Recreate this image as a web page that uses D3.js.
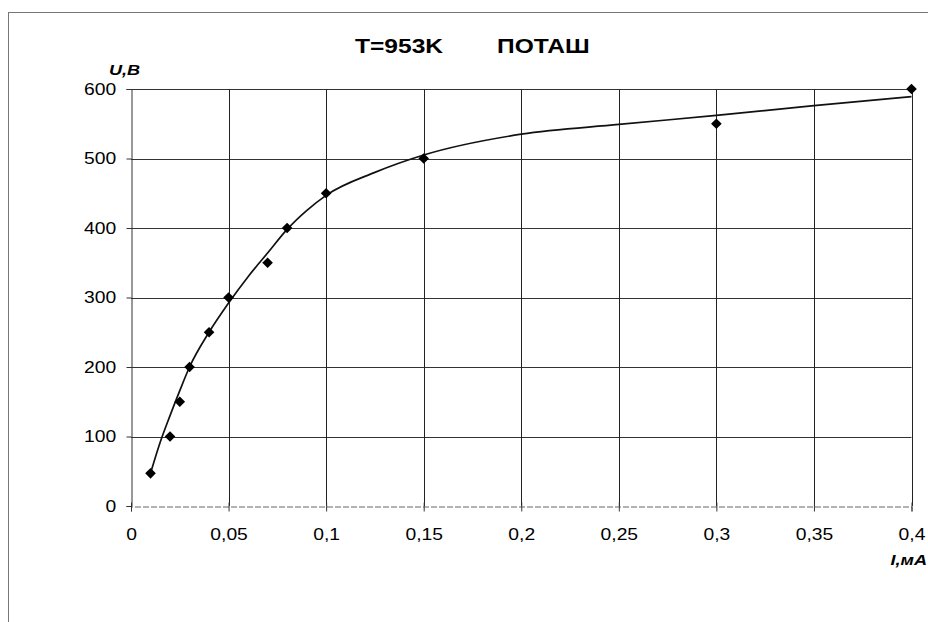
<!DOCTYPE html>
<html>
<head>
<meta charset="utf-8">
<script src="https://cdn.jsdelivr.net/npm/d3@7"></script>
<style>
  html, body { margin: 0; padding: 0; background: #fff; }
  svg { display: block; }
  text { font-family: Arial, "Liberation Sans", sans-serif; fill: #000; }
</style>
</head>
<body>
<svg id="chart" width="928" height="622"></svg>
<script>
// Measured data points (I, mA ; U, V)
const currentI = [0.01, 0.02, 0.025, 0.03, 0.04, 0.05, 0.07, 0.08, 0.1, 0.15, 0.3, 0.4];
const voltageU = [47, 100, 150, 200, 250, 300, 350, 400, 450, 500, 550, 600];

// Smoothed trend curve
const curveI = [0.01, 0.015, 0.02, 0.025, 0.03, 0.04, 0.05, 0.06, 0.07, 0.08, 0.09, 0.1, 0.125, 0.15, 0.2, 0.25, 0.3, 0.35, 0.4];
const curveU = [47, 92, 130, 166, 200, 250, 292, 330, 364, 398, 425, 447, 480, 505, 535, 549, 562, 576, 589];

const xTicks = [0, 0.05, 0.1, 0.15, 0.2, 0.25, 0.3, 0.35, 0.4];
const xTickLabels = ["0", "0,05", "0,1", "0,15", "0,2", "0,25", "0,3", "0,35", "0,4"];
const yTicks = [0, 100, 200, 300, 400, 500, 600];

const titleLeft = "T=953K";
const titleRight = "ПОТАШ";
const yLabel = "U,B";
const xLabel = "I,мА";

const FONT = "Arial, 'Liberation Sans', sans-serif";
const STRETCH = 1.17;

const svg = d3.select("#chart");

// outer frame
svg.append("rect")
  .attr("x", 8.5).attr("y", 12.5).attr("width", 940).attr("height", 640)
  .attr("fill", "none").attr("stroke", "#777").attr("stroke-width", 1);

const x = d3.scaleLinear().domain([0, 0.4]).range([131, 911.5]);
const y = d3.scaleLinear().domain([0, 600]).range([506, 89]);

const g = svg.append("g");

// horizontal gridlines
g.selectAll("line.hgrid").data(yTicks.filter(d => d > 0)).enter().append("line")
  .attr("class", "hgrid")
  .attr("x1", x(0)).attr("x2", x(0.4))
  .attr("y1", d => Math.round(y(d)) + 0.5).attr("y2", d => Math.round(y(d)) + 0.5)
  .attr("stroke", "#333").attr("stroke-width", 1);

// vertical gridlines
g.selectAll("line.vgrid").data(xTicks.filter(d => d > 0)).enter().append("line")
  .attr("class", "vgrid")
  .attr("x1", d => Math.round(x(d)) + 0.5).attr("x2", d => Math.round(x(d)) + 0.5)
  .attr("y1", y(600)).attr("y2", y(0))
  .attr("stroke", "#222").attr("stroke-width", 1);

// y axis
const yAxis = d3.axisLeft(y).tickValues(yTicks).tickSize(5).tickPadding(8)
  .tickFormat(d3.format("d"));
const yg = svg.append("g").attr("transform", `translate(${Math.round(x(0)) + 0.5},0)`).call(yAxis);
yg.select(".domain").attr("stroke", "#333");
yg.selectAll(".tick line").attr("stroke", "#333");
yg.selectAll(".tick text").style("font-size", "16.5px").style("font-family", FONT)
  .attr("transform", `scale(${STRETCH},1)`);

// x axis
const xAxis = d3.axisBottom(x).tickValues(xTicks).tickSize(5).tickPadding(17)
  .tickFormat((d, i) => xTickLabels[i]);
const xg = svg.append("g").attr("transform", `translate(0,${Math.round(y(0)) + 0.5})`).call(xAxis);
xg.select(".domain").attr("stroke", "#666").attr("stroke-dasharray", "6,2");
xg.selectAll(".tick line").attr("stroke", "#333").attr("y1", -4);
xg.selectAll(".tick text").style("font-size", "16.5px").style("font-family", FONT)
  .attr("transform", `scale(${STRETCH},1)`);

// trend curve
const curveData = curveI.map((d, i) => [d, curveU[i]]);
svg.append("path")
  .datum(curveData)
  .attr("fill", "none").attr("stroke", "#111").attr("stroke-width", 1.7)
  .attr("d", d3.line().x(d => x(d[0])).y(d => y(d[1])).curve(d3.curveMonotoneX));

// markers
const pts = currentI.map((d, i) => [d, voltageU[i]]);
svg.selectAll("path.pt").data(pts).enter().append("path")
  .attr("class", "pt")
  .attr("transform", d => `translate(${x(d[0])},${y(d[1])})`)
  .attr("d", d3.symbol().type(d3.symbolDiamond2).size(72))
  .attr("fill", "#000");

function stretchedText(tx, ty, str, size, anchor, extra) {
  const t = svg.append("text")
    .attr("transform", `translate(${tx},${ty}) scale(${STRETCH},1)`)
    .attr("text-anchor", anchor)
    .style("font-size", size + "px").style("font-family", FONT).style("font-weight", "bold");
  if (extra) t.style("font-style", extra);
  t.text(str);
  return t;
}

// titles
stretchedText(355, 53, titleLeft, 21, "start");
stretchedText(497, 53, titleRight, 21, "start");

stretchedText(109, 75, yLabel, 15.5, "start", "italic");
stretchedText(927, 565, xLabel, 15.5, "end", "italic");
</script>
</body>
</html>
